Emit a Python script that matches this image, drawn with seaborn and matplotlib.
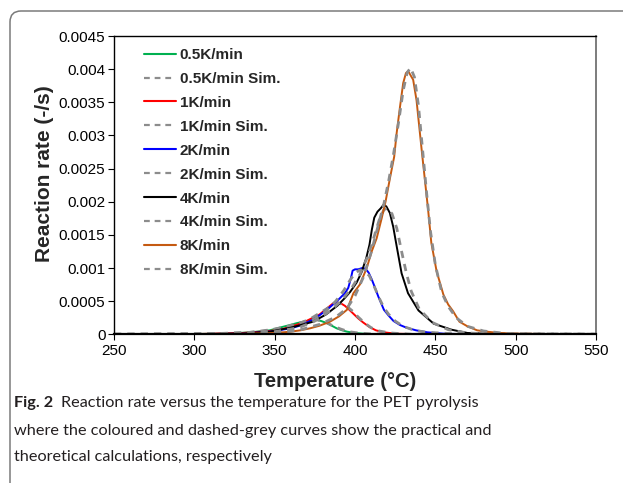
import numpy as np
import pandas as pd
import matplotlib
matplotlib.use("Agg")
import matplotlib.pyplot as plt
from matplotlib.patches import FancyBboxPatch
from matplotlib.lines import Line2D
import seaborn as sns

# ---------------- data ----------------
T_05 = [250, 300, 320, 335, 347, 353, 359.5, 364, 368, 372, 376, 379, 382.4, 385.5, 388.6, 392, 395, 400, 405, 415, 535]
r_05 = [0, 0.000005, 0.00001, 0.00003, 0.00006, 0.0001, 0.00014, 0.00017, 0.00019, 0.00021, 0.00022, 0.0002,
        0.00017, 0.00013, 0.00009, 0.00006, 0.00004, 0.00002, 0.00001, 0, 0]
T_05s = [250, 300, 320, 335, 348, 358, 365, 371, 376, 381, 386, 391, 396, 402, 410, 425, 550]
r_05s = [0, 0.000005, 0.00001, 0.00003, 0.00007, 0.00012, 0.00017, 0.0002, 0.00022, 0.00019, 0.00013, 0.00008,
         0.00004, 0.00002, 0.000005, 0, 0]

T_1 = [250, 300, 330, 347, 355, 362, 368, 373, 378, 382, 386, 388.6, 391, 393.7, 396, 399, 402, 405, 409, 413, 418, 425, 440, 535]
r_1 = [0, 0.000003, 0.00002, 0.00005, 0.00008, 0.00013, 0.00018, 0.00024, 0.0003, 0.00038, 0.00046, 0.00048,
       0.00047, 0.00043, 0.00038, 0.00031, 0.00024, 0.00018, 0.00011, 0.00006, 0.00003, 0.00001, 0, 0]
T_1s = [250, 300, 330, 350, 362, 372, 380, 386, 390, 394, 398, 402, 406, 410, 415, 422, 435, 550]
r_1s = [0, 0.000003, 0.00002, 0.00006, 0.00013, 0.00023, 0.00035, 0.00044, 0.00047, 0.00044, 0.00036, 0.00026,
        0.00017, 0.0001, 0.00005, 0.00002, 0, 0]

T_2 = [250, 300, 330, 347, 360, 367, 376, 384, 390, 393.7, 395.8, 397.5, 398.5, 400, 402, 404.5, 406.5, 408.5,
       410.4, 412.5, 414.5, 418, 421, 424, 428, 432, 438, 445, 455, 470, 535]
r_2 = [0, 0.000002, 0.00001, 0.00004, 0.00009, 0.00014, 0.00025, 0.0004, 0.00053, 0.00062, 0.0007, 0.00085,
       0.00096, 0.00098, 0.00098, 0.001, 0.00099, 0.00093, 0.00083, 0.0007, 0.00057, 0.00037, 0.00028, 0.0002,
       0.00014, 0.0001, 0.00006, 0.00003, 0.00001, 0, 0]
T_2s = [250, 300, 340, 360, 370, 380, 388, 393, 397, 400, 403, 406, 409, 412, 415, 418, 421, 425, 430, 437, 445, 460, 550]
r_2s = [0, 0.000002, 0.00003, 0.0001, 0.00016, 0.00031, 0.0005, 0.00066, 0.00082, 0.00092, 0.00097, 0.00096,
        0.00088, 0.00072, 0.00055, 0.0004, 0.0003, 0.0002, 0.00012, 0.00006, 0.00003, 0.00001, 0]

T_4 = [250, 300, 330, 347, 360, 374, 382, 389, 393, 397, 401, 404, 407, 409, 410.5, 412, 414, 416, 417.6, 419.5,
       421.7, 423.8, 426, 429, 433, 439.5, 449, 460, 470, 485, 535]
r_4 = [0, 0.000002, 0.00001, 0.00004, 0.0001, 0.00019, 0.0003, 0.00043, 0.00053, 0.00064, 0.00078, 0.00093,
       0.00115, 0.00135, 0.00158, 0.00176, 0.00185, 0.0019, 0.00195, 0.00193, 0.00183, 0.00162, 0.00132, 0.00092,
       0.00062, 0.00036, 0.00016, 0.00007, 0.00002, 0.000005, 0]
T_4s = [250, 300, 330, 350, 365, 375, 385, 392, 398, 403, 408, 412, 415, 418, 420, 423, 426, 429, 432, 435, 440,
        448, 458, 470, 490, 550]
r_4s = [0, 0.000002, 0.00001, 0.00004, 0.0001, 0.0002, 0.00036, 0.00052, 0.0007, 0.0009, 0.00118, 0.00148,
        0.00172, 0.00188, 0.0019, 0.00182, 0.0016, 0.00125, 0.00092, 0.00065, 0.00038, 0.00018, 0.00007, 0.00002, 0, 0]

T_8 = [250, 300, 330, 350, 360, 366, 372, 378, 384.4, 390, 395, 399, 403, 407.3, 410.4, 413.5, 416.6, 419, 421.8,
       424.4, 425.9, 428, 430, 431.7, 433.1, 436.2, 438.3, 440, 441.5, 443.5, 445.5, 447.5, 450.8, 455, 458, 461,
       465, 470, 476, 482, 490, 500, 535, 550]
r_8 = [0, 0.000002, 0.000008, 0.00002, 0.00004, 0.00006, 0.00009, 0.00013, 0.00019, 0.00027, 0.00037, 0.00062,
       0.00075, 0.001, 0.00125, 0.00145, 0.00175, 0.002, 0.00236, 0.00268, 0.00303, 0.00343, 0.00379, 0.00394,
       0.00397, 0.00384, 0.00353, 0.00313, 0.00278, 0.00233, 0.00188, 0.00138, 0.00095, 0.0006, 0.00045, 0.00035,
       0.00019, 0.00012, 0.00006, 0.00004, 0.00002, 0.00001, 0, 0]
T_8s = [250, 300, 330, 350, 365, 378, 388, 395, 400, 405, 410, 414, 418, 421, 424, 427, 430, 432.5, 434.6, 437,
        439.5, 442, 444.5, 447, 450, 454, 458, 463, 470, 480, 495, 550]
r_8s = [0, 0.000002, 0.000008, 0.00002, 0.00006, 0.00015, 0.00026, 0.00039, 0.00058, 0.00085, 0.00123, 0.0016,
        0.00197, 0.00232, 0.00272, 0.00318, 0.00368, 0.00395, 0.00402, 0.00388, 0.00345, 0.0028, 0.00215, 0.00155,
        0.00105, 0.00063, 0.00042, 0.00025, 0.00012, 0.00005, 0.00001, 0]

labels = ["0.5K/min", "0.5K/min Sim.", "1K/min", "1K/min Sim.", "2K/min", "2K/min Sim.",
          "4K/min", "4K/min Sim.", "8K/min", "8K/min Sim."]
colors = ["#00B050", "#8C8C8C", "#FF0000", "#8C8C8C", "#0000FF", "#8C8C8C",
          "#000000", "#8C8C8C", "#C55A11", "#8C8C8C"]
series_T = [T_05, T_05s, T_1, T_1s, T_2, T_2s, T_4, T_4s, T_8, T_8s]
series_r = [r_05, r_05s, r_1, r_1s, r_2, r_2s, r_4, r_4s, r_8, r_8s]

x_ticks = [250, 300, 350, 400, 450, 500, 550]
y_ticks = [0, 0.0005, 0.001, 0.0015, 0.002, 0.0025, 0.003, 0.0035, 0.004, 0.0045]
y_ticklabels = ["0", "0.0005", "0.001", "0.0015", "0.002", "0.0025", "0.003", "0.0035", "0.004", "0.0045"]
caption_bold = "Fig. 2"
caption_lines = ["Reaction rate versus the temperature for the PET pyrolysis",
                 "where the coloured and dashed-grey curves show the practical and",
                 "theoretical calculations, respectively"]

# ---------------- figure ----------------
sns.set_theme(style="white")
CHART_FONT = ["Liberation Sans", "DejaVu Sans"]
plt.rcParams["font.family"] = CHART_FONT

W, H, DPI = 623, 483, 100
fig = plt.figure(figsize=(W / DPI, H / DPI), dpi=DPI)
fig.patch.set_facecolor("white")
ax = fig.add_axes([114 / W, 1 - 334.3 / H, (596 - 114) / W, (334.3 - 36) / H])

dash = (0, (2.6, 2.2))
handles = []
for T, r, lab, c in zip(series_T, series_r, labels, colors):
    df = pd.DataFrame({"T": T, "r": r})
    sim = lab.endswith("Sim.")
    lw = 2.0 if sim else 1.4
    ls = dash if sim else "-"
    sns.lineplot(data=df, x="T", y="r", ax=ax, color=c, lw=lw, linestyle=ls,
                 estimator=None, sort=True, legend=False)
    handles.append(Line2D([], [], color=c, lw=(1.6 if sim else 1.5), linestyle=ls))

ax.set_xlim(250, 550)
ax.set_ylim(0, 0.0045)
ax.set_xticks(x_ticks)
ax.set_xticklabels([str(v) for v in x_ticks], family=CHART_FONT)
ax.set_yticks(y_ticks)
ax.set_yticklabels(y_ticklabels, family=CHART_FONT)
ax.tick_params(axis="both", direction="out", length=4, width=0.8, colors="#000000",
               labelsize=11, pad=2.2, bottom=True, left=True)
ax.tick_params(axis="x", pad=3.2)
for s in ["left", "bottom", "top"]:
    ax.spines[s].set_color("#000000")
    ax.spines[s].set_linewidth(1.0)
ax.spines["bottom"].set_linewidth(1.6)
ax.spines["right"].set_color("#666666")
ax.spines["right"].set_linewidth(1.2)
ax.grid(False)

ax.set_xlabel("Temperature (°C)", fontsize=14.5, fontweight="bold", family=CHART_FONT)
ax.set_ylabel("Reaction rate (-/s)", fontsize=15, fontweight="bold", family=CHART_FONT)
ax.xaxis.set_label_coords((335.5 - 114) / 482, (334.3 - 372) / 298.3)
ax.yaxis.set_label_coords((54 - 114) / 482, (334.3 - 174) / 298.3)

leg = ax.legend(handles, labels, loc="upper left", bbox_to_anchor=(0.062, 0.960),
                frameon=False, borderpad=0, borderaxespad=0, handlelength=2.09,
                handletextpad=0.26, labelspacing=0.65,
                prop={"family": "Liberation Sans", "weight": "bold", "size": 11})

# outer rounded border
box = FancyBboxPatch((10, -60), 700, H - 11 + 60, boxstyle="round,pad=0,rounding_size=11",
                     transform=None, fill=False, ec="#7a7a7a", lw=1.1, clip_on=False)
fig.patches.append(box)

# caption (Lato), sized so the three lines best match the reference widths
cap_font = "Lato"
renderer = fig.canvas.get_renderer()
targets = np.array([398.0, 498.0, 258.0])
ws = []
for line in caption_lines:
    t = fig.text(0, 0, line, family=cap_font, fontsize=13)
    ws.append(t.get_window_extent(renderer).width)
    t.remove()
ws = np.array(ws)
cap_size = 13 * float((ws * targets).sum() / (ws * ws).sum())

base_y = [407.5, 434.5, 461.5]
tb = fig.text(14 / W, 1 - base_y[0] / H, caption_bold, family=cap_font, fontweight="bold",
              fontsize=cap_size, va="baseline", ha="left", color="#231f20")
bw = tb.get_window_extent(renderer).width
fig.text((14 + bw + 8) / W, 1 - base_y[0] / H, caption_lines[0], family=cap_font,
         fontsize=cap_size, va="baseline", ha="left", color="#231f20")
for yb, line in zip(base_y[1:], caption_lines[1:]):
    fig.text(14 / W, 1 - yb / H, line, family=cap_font, fontsize=cap_size,
             va="baseline", ha="left", color="#231f20")

fig.savefig("out.png", dpi=DPI, facecolor="white")
